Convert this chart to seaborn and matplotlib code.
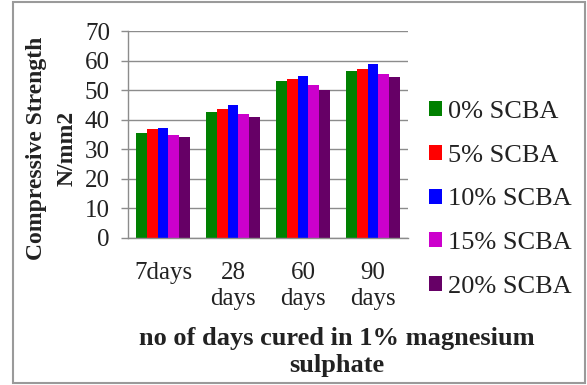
import matplotlib
matplotlib.use("Agg")
import matplotlib.pyplot as plt
import matplotlib.patches as mpatches
import seaborn as sns
import pandas as pd

# Compressive strength (N/mm2) after curing in 1% magnesium sulphate
days = ["7days", "28\ndays", "60\ndays", "90\ndays"]
mixes = ["0% SCBA", "5% SCBA", "10% SCBA", "15% SCBA", "20% SCBA"]
scba_0 = [35.4, 42.7, 53.1, 56.5]
scba_5 = [36.7, 43.6, 53.9, 57.3]
scba_10 = [37.1, 44.9, 54.8, 58.8]
scba_15 = [34.8, 42.1, 51.7, 55.3]
scba_20 = [34.2, 41.0, 50.0, 54.5]
yticks = [0, 10, 20, 30, 40, 50, 60, 70]

colors = ["#008000", "#FF0000", "#0000FF", "#CC00CC", "#660066"]

series = [scba_0, scba_5, scba_10, scba_15, scba_20]
df = pd.DataFrame(
    [(d, m, v) for m, vals in zip(mixes, series) for d, v in zip(days, vals)],
    columns=["days", "mix", "strength"],
)

sns.set_theme(style="white")
plt.rcParams["font.family"] = ["Liberation Serif", "DejaVu Serif"]

fig = plt.figure(figsize=(5.87, 3.85), dpi=100)
ax = fig.add_axes([128 / 587, 1 - 238 / 385, 280 / 587, 207 / 385])

sns.barplot(data=df, x="days", y="strength", hue="mix", palette=colors,
            width=0.77, gap=0, saturation=1, legend=False, ax=ax,
            edgecolor="none", linewidth=0)

ax.set_ylim(0, 70)
ax.set_yticks(yticks)
ax.set_xlim(-0.5, 3.5)
ax.yaxis.grid(True, color="#8c8c8c", linewidth=1)
ax.set_axisbelow(True)
for side in ["top", "right"]:
    ax.spines[side].set_visible(False)
for side in ["left", "bottom"]:
    ax.spines[side].set_color("#8c8c8c")
    ax.spines[side].set_linewidth(1)
ax.tick_params(axis="y", left=True, length=5, color="#8c8c8c", width=1,
               labelsize=18, pad=8, labelcolor="#222222")
ax.tick_params(axis="x", bottom=False, labelsize=18, pad=11, labelcolor="#222222")
for lbl in ax.get_xticklabels():
    lbl.set_linespacing(1.25)
ax.set_xlabel("")
ax.set_ylabel("")

fig.text(52 / 587, 1 - 148 / 385, "Compressive Strength\nN/mm2", rotation=90,
         ha="center", va="center", fontsize=17, fontweight="bold",
         color="#222222", linespacing=1.6)
fig.text(337 / 587, 1 - 352 / 385, "no of days cured in 1% magnesium\nsulphate",
         ha="center", va="center", fontsize=19, fontweight="bold",
         color="#222222", linespacing=1.2)

handles = [mpatches.Patch(facecolor=c, edgecolor="none", label=m)
           for c, m in zip(colors, mixes)]
fig.legend(handles=handles, loc="upper left",
           bbox_to_anchor=(416 / 587, 1 - 88 / 385), frameon=False,
           fontsize=19, handlelength=0.5, handleheight=0.5,
           handletextpad=0.2, labelspacing=0.82, borderpad=0,
           labelcolor="#222222")

# Thin grey frame around the whole chart
fig.add_artist(mpatches.Rectangle((13 / 587, 2 / 385), 572 / 587, 381 / 385,
                                  transform=fig.transFigure, fill=False,
                                  edgecolor="#9a9a9a", linewidth=1.5))

fig.savefig("out.png", dpi=100)
